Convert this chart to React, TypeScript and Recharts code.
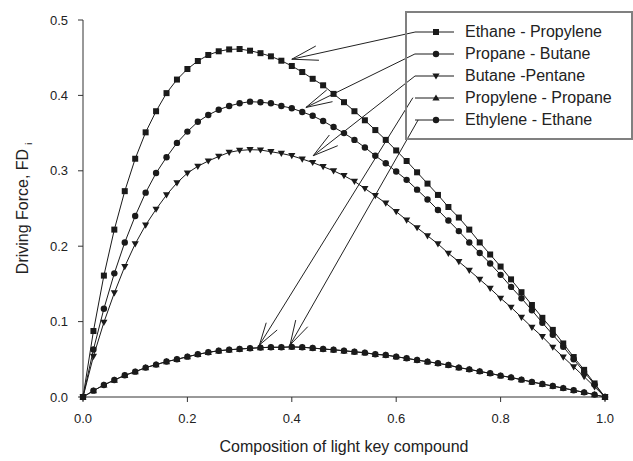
import React from 'react';
import { LineChart, Line, XAxis, YAxis, ReferenceLine, Legend, Label } from 'recharts';

const compositions = [
  0, 0.02, 0.04, 0.06, 0.08, 0.1, 0.12, 0.14, 0.16, 0.18,
  0.2, 0.22, 0.24, 0.26, 0.28, 0.3, 0.32, 0.34, 0.36, 0.38,
  0.4, 0.42, 0.44, 0.46, 0.48, 0.5, 0.52, 0.54, 0.56, 0.58,
  0.6, 0.62, 0.64, 0.66, 0.68, 0.7, 0.72, 0.74, 0.76, 0.78,
  0.8, 0.82, 0.84, 0.86, 0.88, 0.9, 0.92, 0.94, 0.96, 0.98, 1.0,
];

const ethanePropylene = [
  0, 0.0875, 0.161, 0.222, 0.273, 0.316, 0.351, 0.379, 0.403, 0.421,
  0.435, 0.4456, 0.4536, 0.4585, 0.461, 0.4615, 0.4593, 0.456, 0.4518, 0.446,
  0.439, 0.431, 0.422, 0.4134, 0.402, 0.391, 0.379, 0.367, 0.354, 0.341,
  0.327, 0.313, 0.298, 0.283, 0.268, 0.252, 0.238, 0.222, 0.205, 0.189,
  0.173, 0.156, 0.139, 0.122, 0.105, 0.089, 0.071, 0.053, 0.036, 0.018, 0,
];

const propaneButane = [
  0, 0.063, 0.117, 0.164, 0.205, 0.24, 0.271, 0.297, 0.318, 0.337,
  0.352, 0.365, 0.374, 0.381, 0.386, 0.3895, 0.3917, 0.391, 0.3895, 0.386,
  0.383, 0.378, 0.373, 0.366, 0.358, 0.35, 0.341, 0.331, 0.32, 0.31,
  0.299, 0.288, 0.275, 0.262, 0.248, 0.234, 0.22, 0.205, 0.191, 0.177,
  0.162, 0.146, 0.131, 0.115, 0.0985, 0.0826, 0.0667, 0.05, 0.0333, 0.0167, 0,
];

const butanePentane = [
  0, 0.054, 0.099, 0.138, 0.173, 0.203, 0.228, 0.249, 0.268, 0.284,
  0.297, 0.306, 0.313, 0.319, 0.3245, 0.327, 0.328, 0.3276, 0.3253, 0.323,
  0.32, 0.3156, 0.311, 0.3055, 0.3, 0.2935, 0.286, 0.2765, 0.267, 0.257,
  0.2458, 0.2347, 0.2245, 0.2138, 0.203, 0.1906, 0.1795, 0.168, 0.156, 0.144,
  0.131, 0.119, 0.1057, 0.0924, 0.08, 0.066, 0.053, 0.04, 0.027, 0.0135, 0,
];

const propylenePropane = [
  0, 0.0083, 0.0159, 0.0224, 0.0287, 0.0335, 0.0389, 0.0429, 0.0469, 0.0499,
  0.0534, 0.0565, 0.0592, 0.0613, 0.0626, 0.0636, 0.0645, 0.0654, 0.0659, 0.0659,
  0.0664, 0.0659, 0.0649, 0.0636, 0.0626, 0.0613, 0.0599, 0.0587, 0.0565, 0.0556,
  0.0534, 0.0512, 0.0489, 0.0468, 0.0446, 0.0423, 0.0389, 0.0366, 0.0339, 0.0313,
  0.0282, 0.0259, 0.0229, 0.0199, 0.0171, 0.0145, 0.0117, 0.0089, 0.0061, 0.0031, 0,
];

const ethyleneEthane = [
  0, 0.0084, 0.016, 0.0225, 0.0288, 0.0336, 0.039, 0.043, 0.047, 0.05,
  0.0535, 0.0566, 0.0593, 0.0614, 0.0627, 0.0637, 0.0646, 0.0655, 0.066, 0.066,
  0.0665, 0.066, 0.065, 0.0637, 0.0627, 0.0614, 0.06, 0.0588, 0.0566, 0.0557,
  0.0535, 0.0513, 0.049, 0.0469, 0.0447, 0.0424, 0.039, 0.0367, 0.034, 0.0314,
  0.0283, 0.026, 0.023, 0.02, 0.0172, 0.0146, 0.0118, 0.009, 0.0062, 0.0032, 0,
];

const seriesNames = [
  'Ethane - Propylene',
  'Propane - Butane',
  'Butane -Pentane',
  'Propylene - Propane',
  'Ethylene - Ethane',
];
const seriesKeys = ['ep', 'pb', 'bp', 'pp', 'ee'];
const seriesShapes = ['square', 'circle', 'down', 'up', 'circle'];

const xTicks = [0, 0.2, 0.4, 0.6, 0.8, 1.0];
const yTicks = [0, 0.1, 0.2, 0.3, 0.4, 0.5];

// annotation arrows (data coordinates): start at legend, tip on curve, two head wings
const arrowStarts = [
  [0.636, 0.484], [0.636, 0.455], [0.636, 0.4257], [0.632, 0.397], [0.642, 0.3674],
];
const arrowTips = [
  [0.4, 0.448], [0.427, 0.384], [0.441, 0.32], [0.338, 0.069], [0.3966, 0.069],
];
const arrowWingsA = [
  [0.446, 0.4655], [0.467, 0.4073], [0.472, 0.3475], [0.351, 0.0985], [0.4075, 0.102],
];
const arrowWingsB = [
  [0.452, 0.4466], [0.478, 0.3917], [0.488, 0.3333], [0.372, 0.0889], [0.4305, 0.0932],
];

const data = compositions.map((x, i) => ({
  x,
  ep: ethanePropylene[i],
  pb: propaneButane[i],
  bp: butanePentane[i],
  pp: propylenePropane[i],
  ee: ethyleneEthane[i],
}));

const FONT = '"Liberation Sans", Arial, Helvetica, sans-serif';
const INK = '#1a1a1a';

function Marker({ shape, cx, cy }: { shape: string; cx: number; cy: number }) {
  if (shape === 'square') {
    return <rect x={cx - 3} y={cy - 3} width={6} height={6} fill={INK} />;
  }
  if (shape === 'circle') {
    return <circle cx={cx} cy={cy} r={3.2} fill={INK} />;
  }
  if (shape === 'down') {
    return <path d={`M${cx - 3.6},${cy - 2.6} L${cx + 3.6},${cy - 2.6} L${cx},${cy + 3.6} Z`} fill={INK} />;
  }
  return <path d={`M${cx - 3.6},${cy + 2.6} L${cx + 3.6},${cy + 2.6} L${cx},${cy - 3.6} Z`} fill={INK} />;
}

const makeDot = (shape: string, key: string) => (props: any) => {
  const { cx, cy, index } = props;
  if (cx == null || cy == null) return <g key={`${key}-${index}`} />;
  return (
    <g key={`${key}-${index}`}>
      <Marker shape={shape} cx={cx} cy={cy} />
    </g>
  );
};

const renderLegend = () => (
  <div
    style={{
      width: 228,
      height: 129,
      boxSizing: 'border-box',
      border: '2px solid #808080',
      paddingTop: 8,
      fontFamily: FONT,
      fontSize: 16,
      color: '#222',
    }}
  >
    {seriesNames.map((name, i) => (
      <div key={name} style={{ height: 22, display: 'flex', alignItems: 'center' }}>
        <svg width={58} height={22} style={{ display: 'block' }}>
          <line x1={8} x2={47} y1={11} y2={11} stroke={INK} strokeWidth={1} />
          <Marker shape={seriesShapes[i]} cx={29} cy={11} />
        </svg>
        <span style={{ lineHeight: '22px', whiteSpace: 'nowrap' }}>{name}</span>
      </div>
    ))}
  </div>
);

const renderYTitle = (props: any) => {
  const vb = props.viewBox || { x: 0, y: 20, width: 83, height: 377 };
  const cx = 22;
  const cy = vb.y + vb.height / 2;
  return (
    <text
      x={cx}
      y={cy}
      transform={`rotate(-90, ${cx}, ${cy})`}
      textAnchor="middle"
      dominantBaseline="central"
      fontSize={16}
      fontFamily={FONT}
      fill="#222"
    >
      Driving Force, FD
      <tspan fontSize={9} dx={4} dy={7}>i</tspan>
    </text>
  );
};

export default function App() {
  return (
    <div style={{ position: 'absolute', left: 0, top: 0, width: 633, height: 461, background: '#fff', fontFamily: FONT }}>
      <LineChart
        width={633}
        height={461}
        data={data}
        margin={{ top: 20, right: 28, bottom: 0, left: 0 }}
      >
        <XAxis
          dataKey="x"
          type="number"
          domain={[0, 1]}
          ticks={xTicks}
          tickFormatter={(v: number) => v.toFixed(1)}
          tickSize={5}
          tickMargin={12}
          height={64}
          stroke="#333"
          tick={{ fontSize: 13, fill: '#222', fontFamily: FONT }}
          label={{ value: 'Composition of light key compound', position: 'insideBottom', offset: 9, fontSize: 16, fill: '#222', fontFamily: FONT }}
        />
        <YAxis
          type="number"
          domain={[0, 0.5]}
          ticks={yTicks}
          tickFormatter={(v: number) => v.toFixed(1)}
          tickSize={5}
          tickMargin={10}
          width={83}
          stroke="#333"
          tick={{ fontSize: 13, fill: '#222', fontFamily: FONT }}
          label={<Label content={renderYTitle} />}
        />
        <Legend
          layout="horizontal"
          verticalAlign="middle"
          align="center"
          wrapperStyle={{ left: 405, top: 11, width: 228, height: 129 }}
          content={renderLegend}
        />
        {seriesKeys.map((k, i) => (
          <Line
            key={k}
            type="linear"
            dataKey={k}
            name={seriesNames[i]}
            stroke={INK}
            strokeWidth={1}
            dot={makeDot(seriesShapes[i], k)}
            activeDot={false}
            isAnimationActive={false}
          />
        ))}
        {arrowTips.map((tip, i) => (
          <ReferenceLine
            key={`arrow-${i}`}
            segment={[{ x: arrowStarts[i][0], y: arrowStarts[i][1] }, { x: tip[0], y: tip[1] }]}
            stroke="#222"
            strokeWidth={1}
            ifOverflow="visible"
          />
        ))}
        {arrowTips.map((tip, i) => (
          <ReferenceLine
            key={`wa-${i}`}
            segment={[{ x: tip[0], y: tip[1] }, { x: arrowWingsA[i][0], y: arrowWingsA[i][1] }]}
            stroke="#222"
            strokeWidth={1}
            ifOverflow="visible"
          />
        ))}
        {arrowTips.map((tip, i) => (
          <ReferenceLine
            key={`wb-${i}`}
            segment={[{ x: tip[0], y: tip[1] }, { x: arrowWingsB[i][0], y: arrowWingsB[i][1] }]}
            stroke="#222"
            strokeWidth={1}
            ifOverflow="visible"
          />
        ))}
      </LineChart>
    </div>
  );
}
